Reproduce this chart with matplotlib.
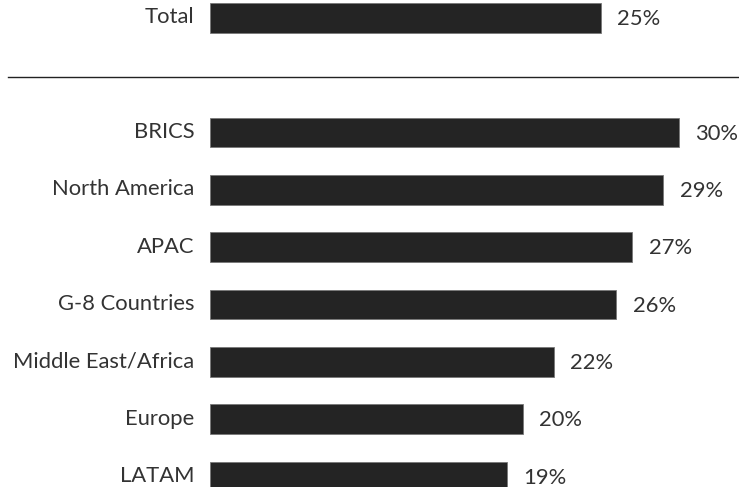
import matplotlib.pyplot as plt

# share of respondents by region
regions = ["Total", "BRICS", "North America", "APAC", "G-8 Countries",
           "Middle East/Africa", "Europe", "LATAM"]
shares = [25, 30, 29, 27, 26, 22, 20, 19]
value_labels = ["25%", "30%", "29%", "27%", "26%", "22%", "20%", "19%"]

# Total sits on its own row, the regions start two rows below
rows = [0, 2, 3, 4, 5, 6, 7, 8]

bar_color = "#242424"
text_color = "#333333"

plt.rcParams["font.family"] = ["Lato", "DejaVu Sans"]

fig = plt.figure(figsize=(7.39, 4.87), dpi=100)
ax = fig.add_axes([210 / 739, 0, 529 / 739, 1])

ax.barh(rows, shares, height=0.52, color=bar_color,
        edgecolor="#777777", linewidth=0.6)

ax.set_xlim(0, 529 / 15.63)
ax.set_ylim(8.185, -0.314)
ax.axis("off")

for y, name, val, lab in zip(rows, regions, shares, value_labels):
    ax.text(-1.0, y - 0.01, name, ha="right", va="center",
            fontsize=15.8, color=text_color, clip_on=False)
    ax.text(val + 1.06, y + 0.02, lab, ha="left", va="center",
            fontsize=15.8, color=text_color, clip_on=False)

# divider between the total and the regional breakdown
fig.add_artist(plt.Line2D([8 / 739, 1], [1 - 76.5 / 487] * 2,
                          color="#222222", linewidth=1.0))

fig.savefig("out.png", dpi=100)
